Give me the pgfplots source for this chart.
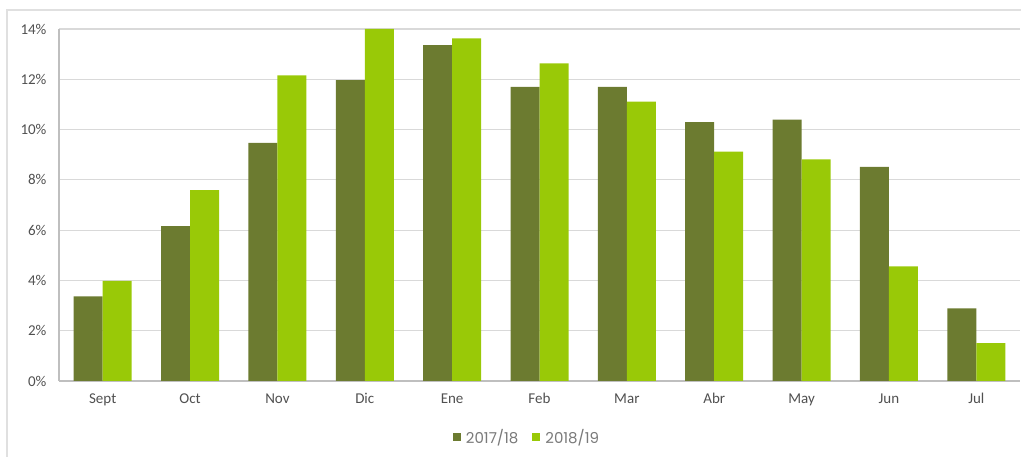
\documentclass[border=0pt]{standalone}
\usepackage{pgfplots}
\pgfplotsset{compat=1.18}
\usepackage{fontspec}
\setmainfont{Carlito}
\newfontfamily\legfont{Poppins}
\definecolor{darkg}{HTML}{6C7B30}
\definecolor{limeg}{HTML}{99C907}
\definecolor{txt}{HTML}{505050}
\definecolor{legtxt}{HTML}{7A7A7A}
\begin{document}
\begin{tikzpicture}[x=1pt,y=1pt]
\path[use as bounding box] (0,0) rectangle (1029,457);
\draw[black!12, line width=1.5pt] (7,0) -- (7,447) -- (1021,447);
\begin{axis}[
  at={(59pt,76pt)}, anchor=south west,
  scale only axis, width=961pt, height=352pt,
  ybar=0pt, bar width=29pt,
  xmin=-0.5, xmax=10.5, ymin=0, ymax=14,
  xtick=data,
  xticklabels={Sept,Oct,Nov,Dic,Ene,Feb,Mar,Abr,May,Jun,Jul},
  ytick={0,2,...,14},
  yticklabel={\pgfmathprintnumber{\tick}\%},
  /pgf/number format/assume math mode=true,
  ymajorgrids, grid style={black!15, line width=1.2pt},
  axis x line*=bottom, axis y line*=left,
  axis line style={black!25, line width=1.2pt},
  major tick length=0pt,
  tick label style={font=\fontsize{15}{17}\selectfont, text=txt},
  xticklabel style={yshift=-9pt},
  yticklabel style={xshift=-9pt},
  legend style={at={(0.487,-0.159)}, anchor=center, legend columns=2, draw=none,
    font=\legfont\fontsize{15}{18}\selectfont\color{legtxt},
    /tikz/every even column/.append style={column sep=12pt}},
  legend image code/.code={\fill[#1] (0pt,-4pt) rectangle (8pt,4pt); \path (11pt,0pt);},
]
\addplot[fill=darkg, draw=none] coordinates {(0,3.37) (1,6.16) (2,9.47) (3,11.97) (4,13.36) (5,11.70) (6,11.70) (7,10.30) (8,10.40) (9,8.52) (10,2.89)};
\addplot[fill=limeg, draw=none] coordinates {(0,3.98) (1,7.59) (2,12.16) (3,14.0) (4,13.63) (5,12.63) (6,11.11) (7,9.12) (8,8.81) (9,4.56) (10,1.51)};
\legend{2017/18,2018/19}
\end{axis}
\end{tikzpicture}
\end{document}
